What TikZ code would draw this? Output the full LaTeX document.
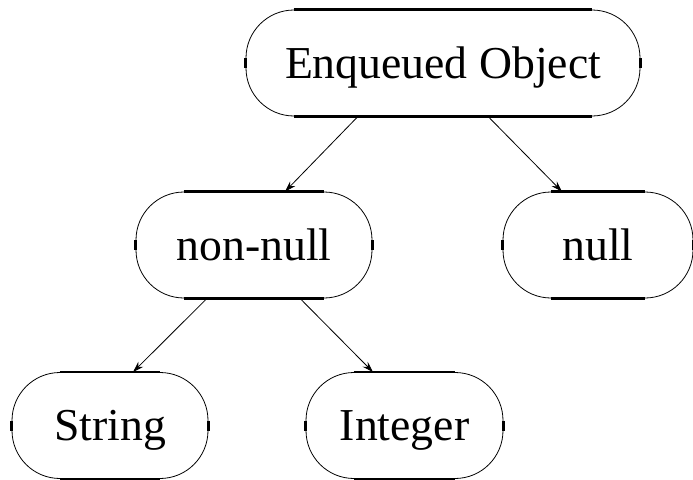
\documentclass[tikz,border=0pt]{standalone}
\usepackage{fontspec}
\setmainfont{Liberation Serif}
\usetikzlibrary{arrows.meta}
\begin{document}
\begin{tikzpicture}[x=1pt,y=-1pt,
  box/.style={draw,line width=0.8pt,rounded corners=48pt,minimum height=106pt,
    inner sep=0pt,text height=30pt,text depth=0pt,font=\fontsize{45.7}{50}\selectfont},
  edge/.style={line width=0.8pt,-{Stealth[length=11pt,width=7pt]}}]
\useasboundingbox (0,0) rectangle (693,479);

% Define nodes
\node[box,minimum width=394pt] (enqueued) at (443,63) {Enqueued Object};
\node[box,minimum width=236pt] (nonnull) at (254,245) {non-null};
\node[box,minimum width=190pt] (null) at (598,245) {null};
\node[box,minimum width=196pt] (string) at (110,425.5) {String};
\node[box,minimum width=197pt] (integer) at (404.5,425.5) {Integer};

% Thick straight edges of the boxes
\foreach \n in {enqueued,nonnull,null,string,integer} {
  \draw[line width=2.4pt] ([xshift=48pt]\n.north west) -- ([xshift=-48pt]\n.north east);
  \draw[line width=2.4pt] ([xshift=48pt]\n.south west) -- ([xshift=-48pt]\n.south east);
  \draw[line width=2.4pt] ([yshift=5pt]\n.west) -- ([yshift=-5pt]\n.west);
  \draw[line width=2.4pt] ([yshift=5pt]\n.east) -- ([yshift=-5pt]\n.east);
}

% Draw arrows
\draw[edge] ([xshift=-85pt]enqueued.south) -- ([xshift=31pt]nonnull.north);
\draw[edge] ([xshift=45pt]enqueued.south) -- ([xshift=-36pt]null.north);
\draw[edge] ([xshift=-47pt]nonnull.south) -- ([xshift=23pt]string.north);
\draw[edge] ([xshift=46pt]nonnull.south) -- ([xshift=-31.5pt]integer.north);

\end{tikzpicture}
\end{document}
